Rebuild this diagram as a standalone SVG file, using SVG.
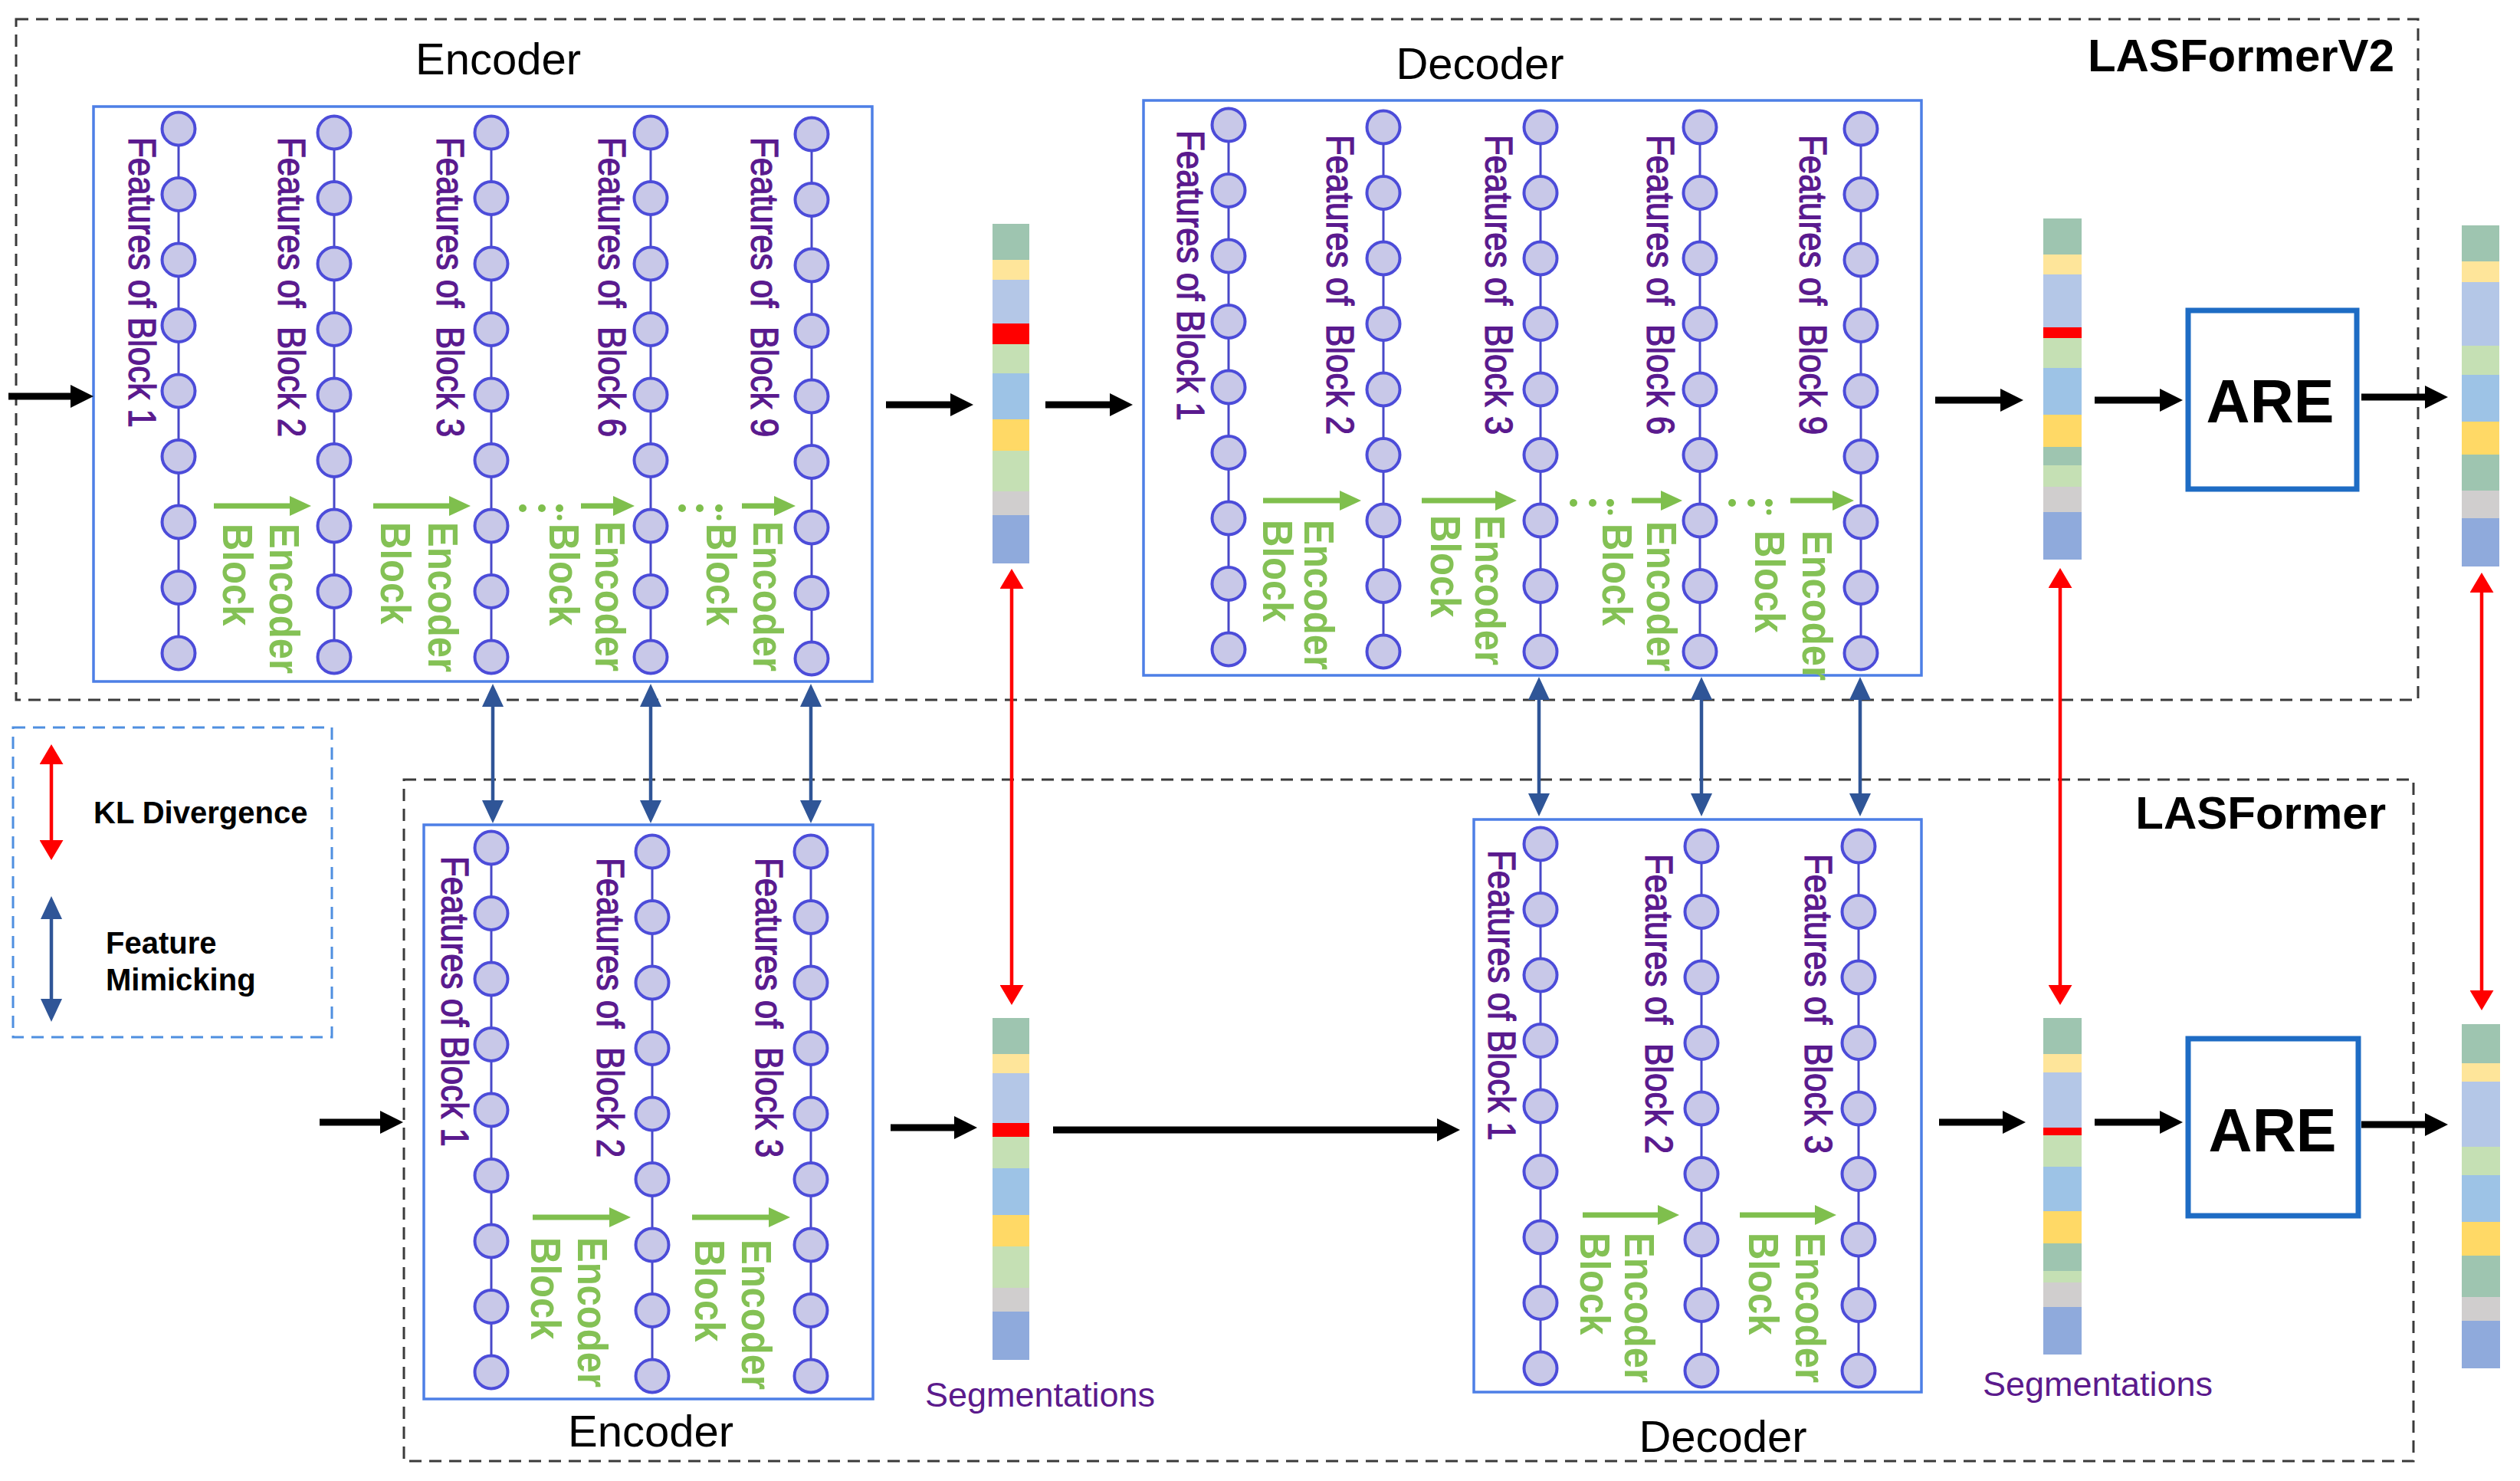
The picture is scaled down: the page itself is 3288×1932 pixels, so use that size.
<svg xmlns="http://www.w3.org/2000/svg" xmlns:xlink="http://www.w3.org/1999/xlink" width="3288" height="1932" viewBox="0 0 3288 1932">
<style>
.dash{fill:none;stroke:#3a3a3a;stroke-width:3;stroke-dasharray:16 10}
.legbox{fill:none;stroke:#4f8fe0;stroke-width:3;stroke-dasharray:16 10}
.blk{fill:none;stroke:#4d7fe6;stroke-width:3.5}
.are{fill:#fff;stroke:#1e6cc4;stroke-width:7}
.title{font-family:"Liberation Sans",Arial,sans-serif;font-size:58px;fill:#000}
.bt{font-family:"Liberation Sans",Arial,sans-serif;font-weight:bold;fill:#000}
.feat{font-family:"Liberation Sans",Arial,sans-serif;font-size:44px;fill:#5a1a8e;stroke:#5a1a8e;stroke-width:1.1;white-space:pre}
.grn{font-family:"Liberation Sans",Arial,sans-serif;font-weight:bold;font-size:49px;fill:#84c155}
.seg{font-family:"Liberation Sans",Arial,sans-serif;font-size:45px;fill:#5b1a8c}
.ka{stroke:#000;stroke-width:9;fill:none;marker-end:url(#mk)}
.ga{stroke:#7fbf4d;stroke-width:7;fill:none;marker-end:url(#mg)}
.ra{stroke:#ff0000;stroke-width:4.5;fill:none;marker-start:url(#mr);marker-end:url(#mr)}
.ba{stroke:#2f5597;stroke-width:4.5;fill:none;marker-start:url(#mb);marker-end:url(#mb)}
.gd{fill:#7fbf4d}
.c1{fill:#9ec5b0}.c2{fill:#fee59a}.c3{fill:#b4c7e7}.c4{fill:#ff0000}.c5{fill:#c5e0b4}.c6{fill:#9dc3e6}.c7{fill:#ffd966}.c8{fill:#d0cece}.c9{fill:#8faadc}
</style>
<defs>
<marker id="mk" markerUnits="userSpaceOnUse" markerWidth="30" markerHeight="30" refX="15" refY="15" orient="auto"><path d="M0,0 L30,15 L0,30 z" fill="#000"/></marker>
<marker id="mg" markerUnits="userSpaceOnUse" markerWidth="28" markerHeight="26" refX="14" refY="13" orient="auto"><path d="M0,0 L28,13 L0,26 z" fill="#7fbf4d"/></marker>
<marker id="mr" markerUnits="userSpaceOnUse" markerWidth="26" markerHeight="31" refX="13" refY="15.5" orient="auto-start-reverse"><path d="M0,0 L26,15.5 L0,31 z" fill="#ff0000"/></marker>
<marker id="mb" markerUnits="userSpaceOnUse" markerWidth="30" markerHeight="28" refX="15" refY="14" orient="auto-start-reverse"><path d="M0,0 L30,14 L0,28 z" fill="#2f5597"/></marker>
<g id="col">
<line x1="0" y1="0" x2="0" y2="684" stroke="#4848c8" stroke-width="3"/>
<g fill="#c8c8e8" stroke="#4c4cd9" stroke-width="4">
<circle cx="0" cy="0" r="21.5"/><circle cx="0" cy="85.5" r="21.5"/><circle cx="0" cy="171" r="21.5"/><circle cx="0" cy="256.5" r="21.5"/><circle cx="0" cy="342" r="21.5"/><circle cx="0" cy="427.5" r="21.5"/><circle cx="0" cy="513" r="21.5"/><circle cx="0" cy="598.5" r="21.5"/><circle cx="0" cy="684" r="21.5"/>
</g>
</g>
</defs>
<rect width="3288" height="1932" fill="#fff"/>

<g id="frames">
<rect id="lasformerv2-frame" class="dash" x="21" y="25" width="3134" height="888"/>
<rect id="lasformer-frame" class="dash" x="527" y="1017" width="2622" height="889"/>
<text class="bt" x="3124" y="93" font-size="60" text-anchor="end">LASFormerV2</text>
<text class="bt" x="3113" y="1081" font-size="60" text-anchor="end">LASFormer</text>
</g>

<g id="legend">
<rect class="legbox" x="17" y="949" width="416" height="404"/>
<text class="bt" x="122" y="1074" font-size="40">KL Divergence</text>
<text class="bt" x="138" y="1244" font-size="40">Feature</text>
<text class="bt" x="138" y="1292" font-size="40">Mimicking</text>
</g>

<g id="encoder-v2">
<text class="title" x="650" y="97" text-anchor="middle">Encoder</text>
<rect class="blk" x="122" y="139" width="1016" height="750"/>
<use xlink:href="#col" x="233" y="168"/>
<use xlink:href="#col" x="436" y="173"/>
<use xlink:href="#col" x="641" y="173"/>
<use xlink:href="#col" x="849" y="173"/>
<use xlink:href="#col" x="1059" y="175"/>
<text class="feat" transform="translate(168,179) rotate(90) scale(1,1.12)">Features of Block 1</text>
<text class="feat" transform="translate(363,179) rotate(90) scale(1,1.12)">Features of  Block 2</text>
<text class="feat" transform="translate(570,179) rotate(90) scale(1,1.12)">Features of  Block 3</text>
<text class="feat" transform="translate(781,179) rotate(90) scale(1,1.12)">Features of  Block 6</text>
<text class="feat" transform="translate(980,179) rotate(90) scale(1,1.12)">Features of  Block 9</text>
<line class="ga" x1="279" y1="660" x2="392" y2="660"/>
<line class="ga" x1="487" y1="660" x2="600" y2="660"/>
<line class="ga" x1="758" y1="660" x2="814" y2="660"/>
<line class="ga" x1="968" y1="660" x2="1024" y2="660"/>
<circle class="gd" cx="682" cy="663" r="5"/><circle class="gd" cx="707" cy="663" r="5"/><circle class="gd" cx="730" cy="663" r="5"/><circle class="gd" cx="730" cy="675" r="3.5"/>
<circle class="gd" cx="890" cy="663" r="5"/><circle class="gd" cx="913" cy="663" r="5"/><circle class="gd" cx="938" cy="663" r="5"/><circle class="gd" cx="938" cy="675" r="3.5"/>
<text class="grn" transform="translate(352,683) rotate(90) scale(1,1.15)">Encoder</text>
<text class="grn" transform="translate(291,683) rotate(90) scale(1,1.15)">Block</text>
<text class="grn" transform="translate(559,681) rotate(90) scale(1,1.15)">Encoder</text>
<text class="grn" transform="translate(497,681) rotate(90) scale(1,1.15)">Block</text>
<text class="grn" transform="translate(777,680) rotate(90) scale(1,1.15)">Encoder</text>
<text class="grn" transform="translate(717,683) rotate(90) scale(1,1.15)">Block</text>
<text class="grn" transform="translate(983,680) rotate(90) scale(1,1.15)">Encoder</text>
<text class="grn" transform="translate(922,683) rotate(90) scale(1,1.15)">Block</text>
</g>

<g id="decoder-v2">
<text class="title" x="1931" y="103" text-anchor="middle">Decoder</text>
<rect class="blk" x="1492" y="131" width="1015" height="750"/>
<use xlink:href="#col" x="1603" y="163"/>
<use xlink:href="#col" x="1805" y="166"/>
<use xlink:href="#col" x="2010" y="166"/>
<use xlink:href="#col" x="2218" y="166"/>
<use xlink:href="#col" x="2428" y="168"/>
<text class="feat" transform="translate(1536,170) rotate(90) scale(1,1.12)">Features of Block 1</text>
<text class="feat" transform="translate(1731,176) rotate(90) scale(1,1.12)">Features of  Block 2</text>
<text class="feat" transform="translate(1938,176) rotate(90) scale(1,1.12)">Features of  Block 3</text>
<text class="feat" transform="translate(2149,176) rotate(90) scale(1,1.12)">Features of  Block 6</text>
<text class="feat" transform="translate(2348,176) rotate(90) scale(1,1.12)">Features of  Block 9</text>
<line class="ga" x1="1648" y1="653" x2="1762" y2="653"/>
<line class="ga" x1="1855" y1="653" x2="1965" y2="653"/>
<line class="ga" x1="2129" y1="653" x2="2181" y2="653"/>
<line class="ga" x1="2336" y1="653" x2="2405" y2="653"/>
<circle class="gd" cx="2053" cy="656" r="5"/><circle class="gd" cx="2078" cy="656" r="5"/><circle class="gd" cx="2101" cy="656" r="5"/><circle class="gd" cx="2101" cy="668" r="3.5"/>
<circle class="gd" cx="2260" cy="656" r="5"/><circle class="gd" cx="2285" cy="656" r="5"/><circle class="gd" cx="2308" cy="656" r="5"/><circle class="gd" cx="2308" cy="668" r="3.5"/>
<text class="grn" transform="translate(1702,678) rotate(90) scale(1,1.15)">Encoder</text>
<text class="grn" transform="translate(1648,678) rotate(90) scale(1,1.15)">Block</text>
<text class="grn" transform="translate(1925,672) rotate(90) scale(1,1.15)">Encoder</text>
<text class="grn" transform="translate(1867,672) rotate(90) scale(1,1.15)">Block</text>
<text class="grn" transform="translate(2149,680) rotate(90) scale(1,1.15)">Encoder</text>
<text class="grn" transform="translate(2091,683) rotate(90) scale(1,1.15)">Block</text>
<text class="grn" transform="translate(2352,692) rotate(90) scale(1,1.15)">Encoder</text>
<text class="grn" transform="translate(2290,692) rotate(90) scale(1,1.15)">Block</text>
</g>

<g id="encoder">
<text class="title" x="849" y="1887" text-anchor="middle">Encoder</text>
<rect class="blk" x="553" y="1076" width="586" height="749"/>
<use xlink:href="#col" x="641" y="1106"/>
<use xlink:href="#col" x="851" y="1111"/>
<use xlink:href="#col" x="1058" y="1111"/>
<text class="feat" transform="translate(576,1117) rotate(90) scale(1,1.12)">Features of Block 1</text>
<text class="feat" transform="translate(779,1119) rotate(90) scale(1,1.12)">Features of  Block 2</text>
<text class="feat" transform="translate(986,1119) rotate(90) scale(1,1.12)">Features of  Block 3</text>
<line class="ga" x1="695" y1="1588" x2="809" y2="1588"/>
<line class="ga" x1="903" y1="1588" x2="1017" y2="1588"/>
<text class="grn" transform="translate(754,1614) rotate(90) scale(1,1.15)">Encoder</text>
<text class="grn" transform="translate(693,1614) rotate(90) scale(1,1.15)">Block</text>
<text class="grn" transform="translate(968,1617) rotate(90) scale(1,1.15)">Encoder</text>
<text class="grn" transform="translate(907,1617) rotate(90) scale(1,1.15)">Block</text>
</g>

<g id="decoder">
<text class="title" x="2248" y="1894" text-anchor="middle">Decoder</text>
<rect class="blk" x="1923" y="1069" width="584" height="747"/>
<use xlink:href="#col" x="2010" y="1101"/>
<use xlink:href="#col" x="2220" y="1104"/>
<use xlink:href="#col" x="2425" y="1104"/>
<text class="feat" transform="translate(1942,1109) rotate(90) scale(1,1.12)">Features of Block 1</text>
<text class="feat" transform="translate(2147,1114) rotate(90) scale(1,1.12)">Features of  Block 2</text>
<text class="feat" transform="translate(2355,1114) rotate(90) scale(1,1.12)">Features of  Block 3</text>
<line class="ga" x1="2065" y1="1585" x2="2177" y2="1585"/>
<line class="ga" x1="2270" y1="1585" x2="2382" y2="1585"/>
<text class="grn" transform="translate(2120,1608) rotate(90) scale(1,1.15)">Encoder</text>
<text class="grn" transform="translate(2062,1608) rotate(90) scale(1,1.15)">Block</text>
<text class="grn" transform="translate(2343,1608) rotate(90) scale(1,1.15)">Encoder</text>
<text class="grn" transform="translate(2282,1608) rotate(90) scale(1,1.15)">Block</text>
</g>

<g id="seg-v2-enc">
<rect class="c1" x="1295" y="292" width="48" height="47"/>
<rect class="c2" x="1295" y="339" width="48" height="26"/>
<rect class="c3" x="1295" y="365" width="48" height="57"/>
<rect class="c4" x="1295" y="422" width="48" height="27"/>
<rect class="c5" x="1295" y="449" width="48" height="38"/>
<rect class="c6" x="1295" y="487" width="48" height="60"/>
<rect class="c7" x="1295" y="547" width="48" height="41"/>
<rect class="c5" x="1295" y="588" width="48" height="53"/>
<rect class="c8" x="1295" y="641" width="48" height="31"/>
<rect class="c9" x="1295" y="672" width="48" height="63"/>
</g>
<g id="seg-v2-dec">
<rect class="c1" x="2666" y="285" width="50" height="47"/>
<rect class="c2" x="2666" y="332" width="50" height="26"/>
<rect class="c3" x="2666" y="358" width="50" height="69"/>
<rect class="c4" x="2666" y="427" width="50" height="14"/>
<rect class="c5" x="2666" y="441" width="50" height="39"/>
<rect class="c6" x="2666" y="480" width="50" height="61"/>
<rect class="c7" x="2666" y="541" width="50" height="42"/>
<rect class="c1" x="2666" y="583" width="50" height="24"/>
<rect class="c5" x="2666" y="607" width="50" height="28"/>
<rect class="c8" x="2666" y="635" width="50" height="33"/>
<rect class="c9" x="2666" y="668" width="50" height="62"/>
</g>
<g id="are-v2">
<rect class="are" x="2855" y="405" width="220" height="233"/>
<text class="bt" x="2962" y="551" font-size="79" text-anchor="middle">ARE</text>
</g>
<g id="seg-v2-out">
<rect class="c1" x="3212" y="294" width="49" height="47"/>
<rect class="c2" x="3212" y="341" width="49" height="27"/>
<rect class="c3" x="3212" y="368" width="49" height="83"/>
<rect class="c5" x="3212" y="451" width="49" height="38"/>
<rect class="c6" x="3212" y="489" width="49" height="61"/>
<rect class="c7" x="3212" y="550" width="49" height="43"/>
<rect class="c1" x="3212" y="593" width="49" height="47"/>
<rect class="c8" x="3212" y="640" width="49" height="36"/>
<rect class="c9" x="3212" y="676" width="49" height="63"/>
</g>

<g id="seg-enc">
<rect class="c1" x="1295" y="1328" width="48" height="47"/>
<rect class="c2" x="1295" y="1375" width="48" height="25"/>
<rect class="c3" x="1295" y="1400" width="48" height="65"/>
<rect class="c4" x="1295" y="1465" width="48" height="18"/>
<rect class="c5" x="1295" y="1483" width="48" height="41"/>
<rect class="c6" x="1295" y="1524" width="48" height="61"/>
<rect class="c7" x="1295" y="1585" width="48" height="41"/>
<rect class="c5" x="1295" y="1626" width="48" height="54"/>
<rect class="c8" x="1295" y="1680" width="48" height="31"/>
<rect class="c9" x="1295" y="1711" width="48" height="63"/>
<text class="seg" x="1357" y="1835" text-anchor="middle">Segmentations</text>
</g>
<g id="seg-dec">
<rect class="c1" x="2666" y="1328" width="50" height="47"/>
<rect class="c2" x="2666" y="1375" width="50" height="24"/>
<rect class="c3" x="2666" y="1399" width="50" height="72"/>
<rect class="c4" x="2666" y="1471" width="50" height="10"/>
<rect class="c5" x="2666" y="1481" width="50" height="41"/>
<rect class="c6" x="2666" y="1522" width="50" height="58"/>
<rect class="c7" x="2666" y="1580" width="50" height="42"/>
<rect class="c1" x="2666" y="1622" width="50" height="36"/>
<rect class="c5" x="2666" y="1658" width="50" height="15"/>
<rect class="c8" x="2666" y="1673" width="50" height="32"/>
<rect class="c9" x="2666" y="1705" width="50" height="62"/>
<text class="seg" x="2737" y="1821" text-anchor="middle">Segmentations</text>
</g>
<g id="are">
<rect class="are" x="2855" y="1355" width="222" height="231"/>
<text class="bt" x="2965" y="1502" font-size="79" text-anchor="middle">ARE</text>
</g>
<g id="seg-out">
<rect class="c1" x="3212" y="1336" width="50" height="51"/>
<rect class="c2" x="3212" y="1387" width="50" height="24"/>
<rect class="c3" x="3212" y="1411" width="50" height="85"/>
<rect class="c5" x="3212" y="1496" width="50" height="37"/>
<rect class="c6" x="3212" y="1533" width="50" height="61"/>
<rect class="c7" x="3212" y="1594" width="50" height="44"/>
<rect class="c1" x="3212" y="1638" width="50" height="54"/>
<rect class="c8" x="3212" y="1692" width="50" height="31"/>
<rect class="c9" x="3212" y="1723" width="50" height="62"/>
</g>

<g id="connectors">
<line class="ka" x1="11" y1="517" x2="107" y2="517"/>
<line class="ka" x1="1156" y1="528" x2="1255" y2="528"/>
<line class="ka" x1="1364" y1="528" x2="1463" y2="528"/>
<line class="ka" x1="2525" y1="522" x2="2625" y2="522"/>
<line class="ka" x1="2733" y1="522" x2="2833" y2="522"/>
<line class="ka" x1="3081" y1="518" x2="3179" y2="518"/>
<line class="ka" x1="417" y1="1464" x2="511" y2="1464"/>
<line class="ka" x1="1162" y1="1471" x2="1260" y2="1471"/>
<line class="ka" x1="1374" y1="1474" x2="1890" y2="1474"/>
<line class="ka" x1="2530" y1="1464" x2="2628" y2="1464"/>
<line class="ka" x1="2733" y1="1464" x2="2833" y2="1464"/>
<line class="ka" x1="3081" y1="1467" x2="3179" y2="1467"/>
<line class="ra" x1="1320" y1="755" x2="1320" y2="1298"/>
<line class="ra" x1="2688" y1="754" x2="2688" y2="1298"/>
<line class="ra" x1="3238" y1="760" x2="3238" y2="1305"/>
<line class="ra" x1="67" y1="984" x2="67" y2="1109"/>
<line class="ba" x1="643" y1="907" x2="643" y2="1059"/>
<line class="ba" x1="849" y1="907" x2="849" y2="1059"/>
<line class="ba" x1="1058" y1="907" x2="1058" y2="1059"/>
<line class="ba" x1="2008" y1="898" x2="2008" y2="1050"/>
<line class="ba" x1="2220" y1="898" x2="2220" y2="1050"/>
<line class="ba" x1="2427" y1="898" x2="2427" y2="1050"/>
<line class="ba" x1="67" y1="1184" x2="67" y2="1318"/>
</g>
</svg>
